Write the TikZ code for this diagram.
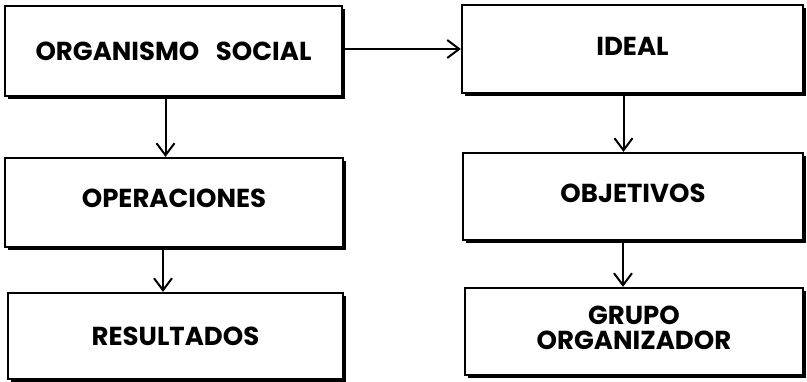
\documentclass[tikz,border=0pt]{standalone}
\usepackage{fontspec}
\setmainfont{Poppins}
\usetikzlibrary{arrows.meta}
\begin{document}
\begin{tikzpicture}[x=1pt,y=-1pt,
  box/.style={draw=black, line width=2.2pt, fill=white, rectangle, inner sep=0pt,
    align=center, font=\bfseries\fontsize{26}{25}\selectfont},
  shade/.style={fill=black},
  link/.style={line width=2pt, -{Straight Barb[length=12pt,width=18pt,line width=2pt]}}
]
\useasboundingbox (0,0) rectangle (807,382);
% shadows
\fill[shade] (8,9) rectangle (345,99);
\fill[shade] (465,8) rectangle (806,96);
\fill[shade] (8,161) rectangle (346,250);
\fill[shade] (11,296) rectangle (346,382);
\fill[shade] (466,156) rectangle (806,243);
\fill[shade] (468,291) rectangle (806,378);
% boxes
\node[box, minimum width=337pt, minimum height=90pt] (A) at (173.5,51) {ORGANISMO\ \ \ SOCIAL};
\node[box, minimum width=341pt, minimum height=88pt] (B) at (632.5,49) {\raisebox{6pt}{IDEAL}};
\node[box, minimum width=338pt, minimum height=89pt] (C) at (174,202.5) {\raisebox{8pt}{OPERACIONES}};
\node[box, minimum width=335pt, minimum height=86pt] (D) at (175.5,336) {RESULTADOS};
\node[box, minimum width=340pt, minimum height=87pt] (E) at (633,196.5) {\raisebox{6pt}{OBJETIVOS}};
\node[box, minimum width=338pt, minimum height=87pt] (F) at (634,331.5) {\raisebox{5pt}{\begin{tabular}{@{}c@{}}GRUPO\\[-1pt]ORGANIZADOR\end{tabular}}};
% connectors
\draw[link] ([yshift=2pt]A.east) -- ([yshift=2pt]A.east -| B.west);
\draw[link] ([xshift=-8pt]A.south) -- ([xshift=-8pt]A.south |- C.north);
\draw[link] ([xshift=-11pt]C.south) -- ([xshift=-11pt]C.south |- D.north);
\draw[link] ([xshift=-9pt]B.south) -- ([xshift=-9pt]B.south |- E.north);
\draw[link] ([xshift=-10pt]E.south) -- ([xshift=-10pt]E.south |- F.north);
\end{tikzpicture}
\end{document}
